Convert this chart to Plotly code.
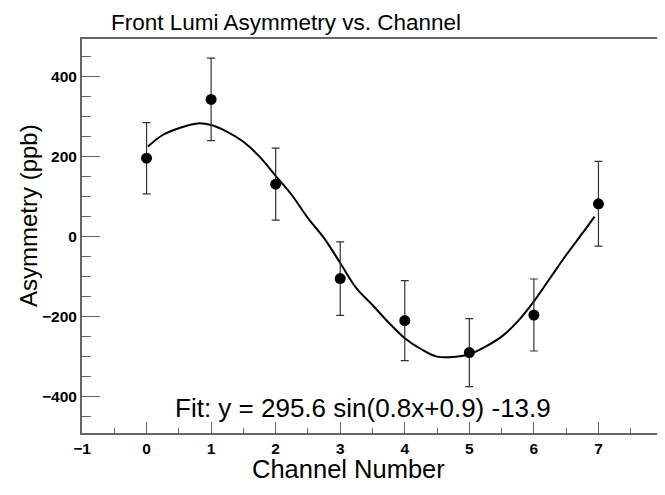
import plotly.graph_objects as go

# Data points
channels = [0, 1, 2, 3, 4, 5, 6, 7]
asymmetry = [196, 343, 131, -105, -210, -290, -196, 82]
errors = [89, 103, 90, 92, 100, 85, 90, 106]

# Fit curve
fit_x = [0.02, 0.25, 0.5, 0.79, 1.0, 1.25, 1.5, 1.75, 2.0, 2.25, 2.5, 2.75, 3.0,
         3.25, 3.5, 3.75, 4.0, 4.25, 4.5, 4.75, 5.0, 5.25, 5.5, 5.75, 6.0, 6.25,
         6.5, 6.75, 6.94]
fit_y = [225, 254, 271, 283, 279, 262, 237, 200, 152, 104, 46, -4, -66,
         -129, -171, -215, -254, -281, -300, -301, -294, -275, -250, -212, -162, -104,
         -46, 8, 50]

fit_label = "Fit: y = 295.6 sin(0.8x+0.9) -13.9"
title_text = "Front Lumi Asymmetry vs. Channel"
x_title = "Channel Number"
y_title = "Asymmetry (ppb)"

FONT = "Arial, Liberation Sans, sans-serif"
W, H = 657, 487
ML, MT, PW, PH = 74, 31, 581, 394

fig = go.Figure()
fig.add_trace(go.Scatter(
    x=fit_x, y=fit_y, mode="lines",
    line=dict(color="black", width=2, shape="spline"),
    showlegend=False, hoverinfo="skip"))
fig.add_trace(go.Scatter(
    x=channels, y=asymmetry, mode="markers",
    marker=dict(color="black", size=11),
    error_y=dict(type="data", array=errors, visible=True,
                 color="#333333", thickness=1.2, width=4),
    showlegend=False))

fig.add_annotation(x=3.35, y=-428, xref="x", yref="y", text=fit_label,
                   showarrow=False, font=dict(family=FONT, size=26, color="black"))
# axis titles
fig.add_annotation(x=(340 - ML) / PW, y=-(461 - MT - PH) / PH, xref="paper", yref="paper",
                   text=x_title, showarrow=False, xanchor="center", yanchor="middle",
                   font=dict(family=FONT, size=25.5, color="black"))
fig.add_annotation(x=(20 - ML) / PW, y=1 - (208 - MT) / PH, xref="paper", yref="paper",
                   text=y_title, showarrow=False, textangle=-90,
                   xanchor="center", yanchor="middle",
                   font=dict(family=FONT, size=24, color="black"))

fig.update_layout(
    width=W, height=H,
    margin=dict(l=ML, r=W - ML - PW, t=MT, b=H - MT - PH),
    paper_bgcolor="white", plot_bgcolor="white",
    title=dict(text=title_text, x=278/W, xanchor="center", y=1 - 14/H, yanchor="middle",
               font=dict(family=FONT, size=22.5, color="black")),
    font=dict(family=FONT, color="black"),
)
fig.update_xaxes(
    range=[-1, 8], tickvals=list(range(-1, 9)), automargin=False,
    showgrid=False, zeroline=False,
    showline=True, linecolor="#666666", linewidth=2, mirror=True,
    ticks="inside", ticklen=11, tickcolor="#666666", tickwidth=1,
    minor=dict(dtick=0.5, ticks="inside", ticklen=5, tickcolor="#666666", tickwidth=1),
    tickfont=dict(family=FONT, size=15.5, color="black", weight="bold"),
)
fig.update_yaxes(
    range=[-491, 494], tickvals=[-400, -200, 0, 200, 400], automargin=False,
    showgrid=False, zeroline=False,
    showline=True, linecolor="#666666", linewidth=2, mirror=True,
    ticks="inside", ticklen=18, tickcolor="#666666", tickwidth=1,
    minor=dict(dtick=50, ticks="inside", ticklen=9, tickcolor="#666666", tickwidth=1),
    tickfont=dict(family=FONT, size=15.5, color="black", weight="bold"),
)

fig.write_html("out.html")
